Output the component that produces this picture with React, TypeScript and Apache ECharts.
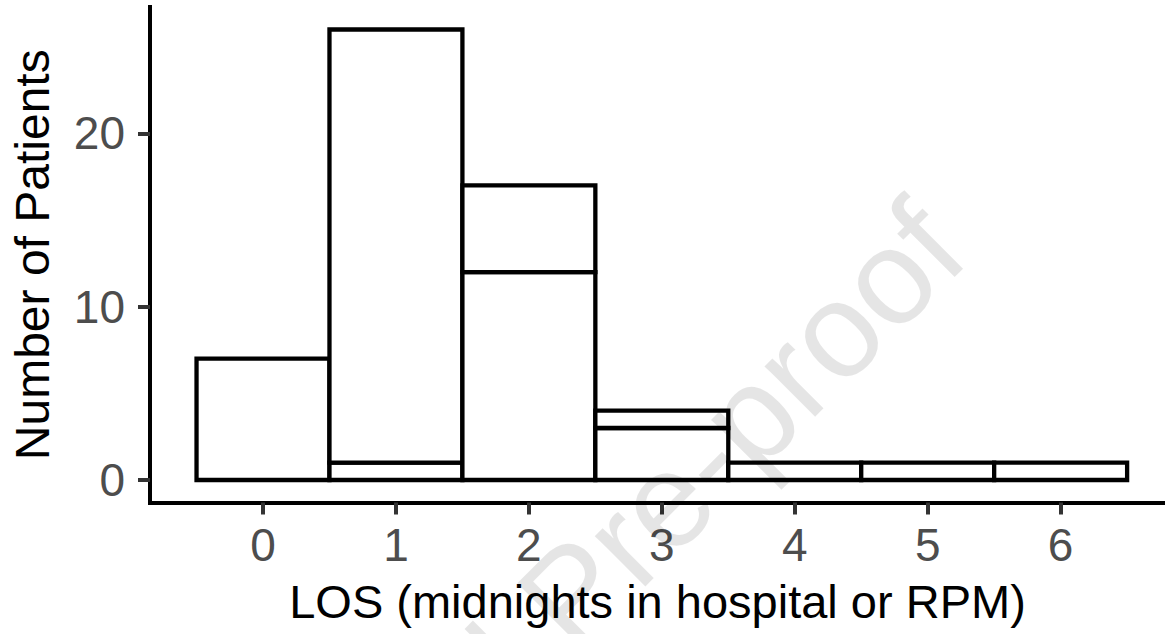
import React, { useEffect, useRef } from "react";
import * as echarts from "echarts";

// ---- data ----
const losCategories = [0, 1, 2, 3, 4, 5, 6];
const lowerCounts = [0, 1, 12, 3, 1, 1, 1];
const upperCounts = [7, 25, 5, 1, 0, 0, 0];
const xTickValues = [0, 1, 2, 3, 4, 5, 6];
const yTickValues = [0, 10, 20];
const xAxisTitle = "LOS (midnights in hospital or RPM)";
const yAxisTitle = "Number of Patients";
const watermarkText = "Journal Pre-proof";

const FONT = "'Liberation Sans', Arial, Helvetica, sans-serif";

export default function App() {
  const ref = useRef<HTMLDivElement>(null);

  useEffect(() => {
    if (!ref.current) return;
    const chart = echarts.init(ref.current, undefined, { renderer: "svg" });

    // segments: [x, bottom, top]
    const segments: number[][] = [];
    losCategories.forEach((x, i) => {
      const lo = lowerCounts[i];
      const up = upperCounts[i];
      if (lo > 0) segments.push([x, 0, lo]);
      if (up > 0) segments.push([x, lo, lo + up]);
    });

    const option: any = {
      animation: false,
      backgroundColor: "#ffffff",
      grid: { left: 147, top: 7, right: 0, height: 495.5, containLabel: false },
      xAxis: {
        type: "value",
        min: -0.85,
        max: 6.785,
        axisLine: { show: true, onZero: false, lineStyle: { color: "#000", width: 4, cap: "square" } },
        axisTick: { show: true, customValues: xTickValues, length: 12, lineStyle: { color: "#333", width: 4 } },
        axisLabel: { customValues: xTickValues, fontSize: 46, color: "#4d4d4d", margin: 19, fontFamily: FONT },
        splitLine: { show: false },
        name: xAxisTitle,
        nameLocation: "middle",
        nameGap: 75,
        nameTextStyle: { fontSize: 47, color: "#000", fontFamily: FONT },
      },
      yAxis: {
        type: "value",
        min: -1.3,
        max: 27.3,
        axisLine: { show: true, onZero: false, lineStyle: { color: "#000", width: 4, cap: "square" } },
        axisTick: { show: true, customValues: yTickValues, length: 12, lineStyle: { color: "#333", width: 4 } },
        axisLabel: { customValues: yTickValues, fontSize: 46, color: "#4d4d4d", margin: 25, fontFamily: FONT },
        splitLine: { show: false },
        name: yAxisTitle,
        nameLocation: "middle",
        nameGap: 94,
        nameTextStyle: { fontSize: 48, color: "#000", fontFamily: FONT },
      },
      series: [
        {
          type: "custom",
          data: segments,
          clip: false,
          renderItem: (params: any, api: any) => {
            const x = api.value(0);
            const y0 = api.value(1);
            const y1 = api.value(2);
            const p0 = api.coord([x - 0.5, y1]);
            const p1 = api.coord([x + 0.5, y0]);
            return {
              type: "rect",
              shape: { x: p0[0], y: p0[1], width: p1[0] - p0[0], height: p1[1] - p0[1] },
              style: { fill: "#ffffff", stroke: "#000000", lineWidth: 4.3 },
            };
          },
        },
      ],
      graphic: [
        {
          type: "text",
          x: 940,
          y: 226,
          rotation: Math.PI / 4,
          z: 100,
          silent: true,
          style: {
            text: watermarkText,
            fontSize: 135,
            fontFamily: FONT,
            fill: "rgba(0,0,0,0.1)",
            align: "right",
            verticalAlign: "middle",
          },
        },
      ],
    };

    chart.setOption(option);
    return () => chart.dispose();
  }, []);

  return (
    <div
      ref={ref}
      style={{ position: "absolute", left: 0, top: 0, width: 1165, height: 634 }}
    />
  );
}
